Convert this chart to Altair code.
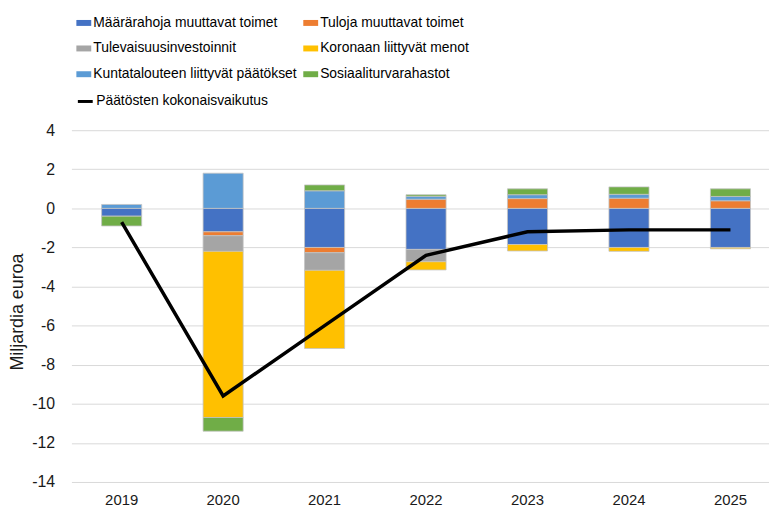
import altair as alt
import pandas as pd

years = ["2019", "2020", "2021", "2022", "2023", "2024", "2025"]

series = [
    "Määrärahoja muuttavat toimet",
    "Tuloja muuttavat toimet",
    "Tulevaisuusinvestoinnit",
    "Koronaan liittyvät menot",
    "Kuntatalouteen liittyvät päätökset",
    "Sosiaaliturvarahastot",
]
colors = ["#4472C4", "#ED7D31", "#A5A5A5", "#FFC000", "#5B9BD5", "#70AD47"]

maararahat = [-0.4, -1.2, -2.0, -2.1, -1.85, -2.0, -2.0]
tulot = [0.0, -0.2, -0.27, 0.47, 0.5, 0.52, 0.39]
tulevaisuus = [0.0, -0.8, -0.9, -0.63, 0.0, 0.0, 0.0]
korona = [0.0, -8.5, -4.0, -0.42, -0.33, -0.2, -0.07]
kunta = [0.2, 1.8, 0.9, 0.15, 0.2, 0.2, 0.22]
sosiaali = [-0.5, -0.7, 0.3, 0.08, 0.3, 0.38, 0.39]

line_name = "Päätösten kokonaisvaikutus"
kokonais = [-0.7, -9.6, -6.0, -2.4, -1.2, -1.1, -1.1]

y_ticks = [-14, -12, -10, -8, -6, -4, -2, 0, 2, 4]

values = [maararahat, tulot, tulevaisuus, korona, kunta, sosiaali]

rows = []
for si, (name, vals) in enumerate(zip(series, values)):
    for yr, v in zip(years, vals):
        if v != 0:
            rows.append({"year": yr, "series": name, "value": v, "ord": si})
bars_df = pd.DataFrame(rows)
line_df = pd.DataFrame({"year": years, "value": kokonais, "name": [line_name] * len(years)})

# legend is filled column by column: reorder so that rows read as in the reference
legend_order = [0, 2, 4, 1, 3, 5]
legend_domain = [series[i] for i in legend_order]
legend_range = [colors[i] for i in legend_order]

FONT = "Liberation Sans, Arial, sans-serif"
TXT = "#1a1a1a"

x_enc = alt.X(
    "year:N",
    title=None,
    sort=years,
    scale=alt.Scale(paddingInner=0.605, paddingOuter=0.24, align=0.62),
    axis=alt.Axis(labelAngle=0, ticks=False, domain=False, grid=False,
                  labelPadding=11, labelFontSize=15, labelFont=FONT, labelColor=TXT),
)
y_scale = alt.Scale(domain=[-14, 4], nice=False, zero=False)
y_axis = alt.Axis(values=y_ticks, tickCount=len(y_ticks) + 2, title="Miljardia euroa",
                  ticks=False, domain=False,
                  gridColor="#d9d9d9", gridWidth=1, labelPadding=17, labelFontSize=16,
                  labelOverlap=False, labelExpr="'' + datum.value",
                  labelFont=FONT, labelColor=TXT,
                  titleFont=FONT, titleFontSize=18, titleFontWeight="normal", titleColor=TXT,
                  titleX=-49, titleY=183, titleAngle=270, titleAlign="center",
                  titleBaseline="alphabetic")

bars = alt.Chart(bars_df).mark_bar(stroke="#c4c4c4", strokeWidth=0.8).encode(
    x=x_enc,
    y=alt.Y("value:Q", stack="zero", scale=y_scale, axis=y_axis),
    color=alt.Color(
        "series:N",
        scale=alt.Scale(domain=legend_domain, range=legend_range),
        legend=alt.Legend(
            title=None, orient="none", legendX=5, legendY=-116, columns=2,
            columnPadding=6, rowPadding=11,
            symbolType="M-1,-0.4H1V0.4H-1Z", symbolSize=225, symbolStrokeWidth=0,
            labelFont=FONT, labelFontSize=14, labelColor="#000000", labelOffset=2,
            labelLimit=400,
        ),
    ),
    order=alt.Order("ord:Q"),
)

line = alt.Chart(line_df).mark_line(strokeWidth=3.5).encode(
    x=alt.X("year:N", sort=years),
    y=alt.Y("value:Q", scale=y_scale),
    stroke=alt.Stroke(
        "name:N",
        scale=alt.Scale(domain=[line_name], range=["#000000"]),
        legend=alt.Legend(
            title=None, orient="none", legendX=5, legendY=-38,
            symbolType="stroke", symbolSize=225, symbolStrokeWidth=3,
            labelFont=FONT, labelFontSize=14, labelColor="#000000", labelOffset=2,
            labelLimit=400,
        ),
    ),
)

chart = alt.layer(bars, line).properties(
    width=704,
    height=355,
    autosize=alt.AutoSizeParams(type="none"),
    padding={"left": 64, "top": 121, "right": 0, "bottom": 30},
    background="white",
).configure_view(stroke=None)

chart.save("out.html", embed_options={"renderer": "svg", "actions": False})
